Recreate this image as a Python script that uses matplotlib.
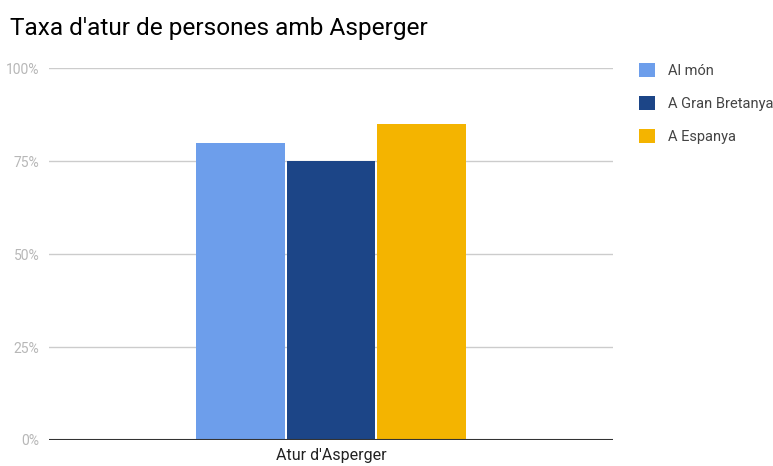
import matplotlib.pyplot as plt
from matplotlib.patches import Patch

plt.rcParams['font.family'] = ['Roboto', 'DejaVu Sans']

# Unemployment rate of people with Asperger syndrome
category = "Atur d'Asperger"
series = ["Al món", "A Gran Bretanya", "A Espanya"]
values = [80, 75, 85]
colors = ['#6d9eeb', '#1c4587', '#f4b400']
yticks = [0, 25, 50, 75, 100]
ytick_labels = ['0%', '25%', '50%', '75%', '100%']

fig = plt.figure(figsize=(7.73, 4.66), dpi=100)
ax = fig.add_axes([0.0634, 0.0558, 0.7297, 0.798])

step = 0.1605
width = 0.157
for i, (name, val, col) in enumerate(zip(series, values, colors)):
    ax.bar((i - 1) * step, val, width=width, color=col, label=name, zorder=3)

ax.set_xlim(-0.5, 0.5)
ax.set_ylim(0, 100)
ax.set_yticks(yticks)
ax.set_yticklabels(ytick_labels)
ax.set_xticks([0])
ax.set_xticklabels([category])

ax.grid(axis='y', color='#cccccc', linewidth=1, zorder=0)
ax.axhline(0, color='#333333', linewidth=1.5, zorder=4)
for s in ['top', 'right', 'left', 'bottom']:
    ax.spines[s].set_visible(False)
ax.tick_params(axis='y', length=0, pad=7, labelsize=10, labelcolor='#b7b7b7')
ax.tick_params(axis='x', length=0, pad=6, labelsize=11.5, labelcolor='#222222')

fig.text(0.013, 0.938, "Taxa d'atur de persones amb Asperger", fontsize=17.6,
         color='#000000', va='center', ha='left')

handles = [Patch(facecolor=c, edgecolor='none') for c in colors]
leg = ax.legend(handles, series, loc='upper left', bbox_to_anchor=(1.035, 1.03),
                frameon=False, fontsize=10.5, handlelength=1.1, handleheight=1.1,
                handletextpad=0.9, labelspacing=1.25, borderaxespad=0)
for t in leg.get_texts():
    t.set_color('#444444')

fig.savefig('out.png', dpi=100)
